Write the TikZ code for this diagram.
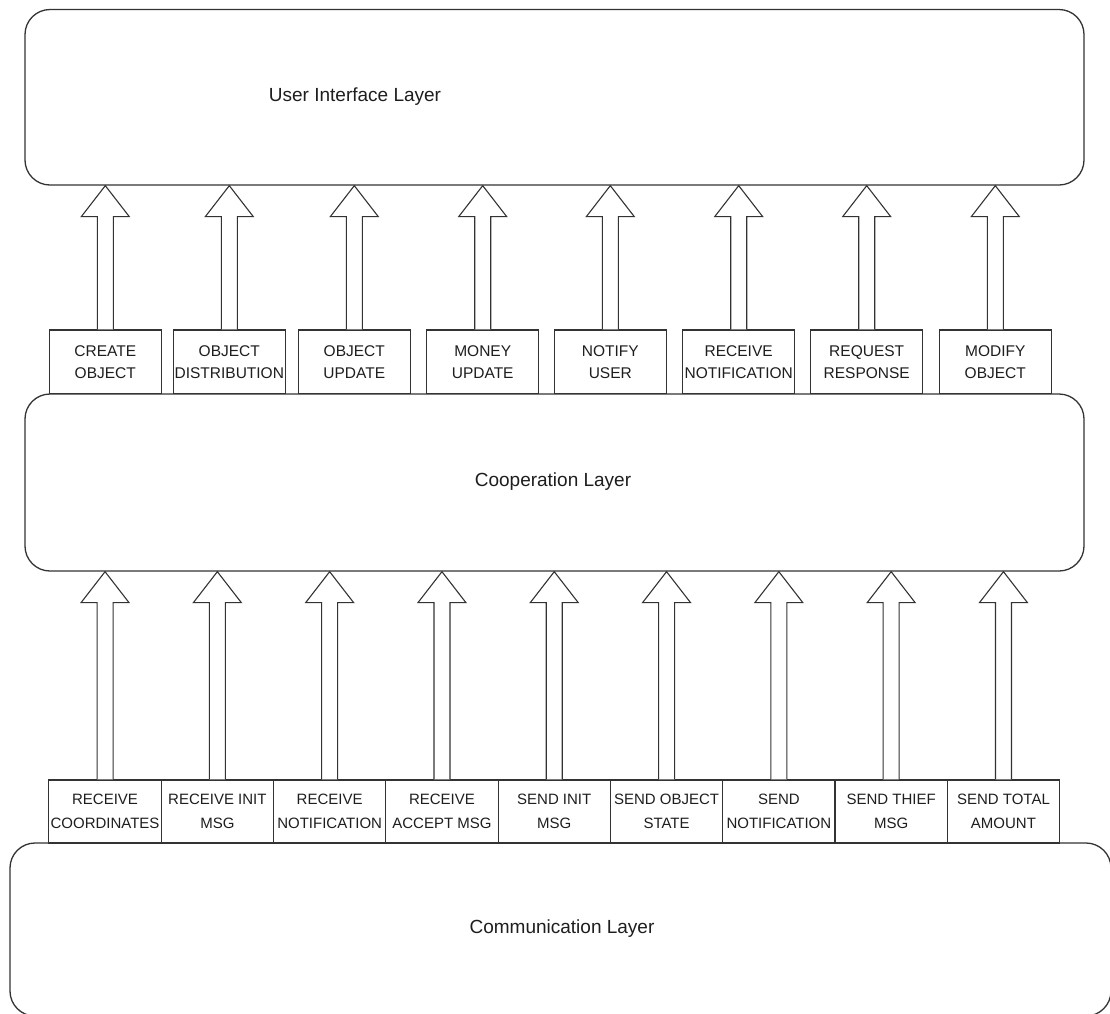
\documentclass[tikz,border=0pt]{standalone}
\usepackage{fontspec}
\setmainfont{Liberation Sans}
\usetikzlibrary{calc}
\definecolor{ln}{HTML}{333333}
\definecolor{tx}{HTML}{1E1E1E}
\begin{document}
\begin{tikzpicture}[x=1pt,y=-1pt,
  layer/.style={draw=ln,line width=1.3pt,rounded corners=25pt,fill=white,inner sep=0pt},
  layertext/.style={font=\fontsize{19}{22}\selectfont,text=tx,inner sep=0pt},
  topbox/.style={draw=ln,line width=1.1pt,fill=white,minimum width=112pt,minimum height=63.5pt,inner sep=0pt,align=center,font=\fontsize{15.5}{22}\selectfont,text=tx},
  botbox/.style={draw=ln,line width=1.1pt,fill=white,minimum width=112.3pt,minimum height=63pt,inner sep=0pt,align=center,font=\fontsize{15}{24}\selectfont,text=tx},
  blockarrow/.style={draw=ln,line width=1.1pt,fill=white,line join=miter}]
\useasboundingbox (0,0) rectangle (1110,1013);
% layers
\node[layer,minimum width=1059pt,minimum height=175.5pt] (ui) at (554.5,97.25) {};
\node[layertext] (uit) at (355,97) {User Interface Layer};
\node[layer,minimum width=1059pt,minimum height=177pt] (coop) at (554.5,482.5) {};
\node[layertext] (coopt) at (553,482) {Cooperation Layer};
\node[layer,minimum width=1101pt,minimum height=173pt] (comm) at (560.5,929.5) {};
\node[layertext] (commt) at (562,929) {Communication Layer};
% top boxes
\foreach \nm/\cx/\t in {t1/105.3/{CREATE\\OBJECT},t2/229.3/{OBJECT\\DISTRIBUTION},t3/354.3/{OBJECT\\UPDATE},t4/482.7/{MONEY\\UPDATE},t5/610.3/{NOTIFY\\USER},t6/738.7/{RECEIVE\\NOTIFICATION},t7/866.7/{REQUEST\\RESPONSE},t8/995.3/{MODIFY\\OBJECT}}{
  \node[topbox] (\nm) at (\cx,361.75) {\t};
  \draw[blockarrow] let \p1=(\nm.north), \p2=(ui.south) in
    ({\x1-8pt},\y1) -- ({\x1-8pt},{\y2-31pt}) -- ({\x1-24pt},{\y2-31pt}) -- (\x1,\y2)
    -- ({\x1+24pt},{\y2-31pt}) -- ({\x1+8pt},{\y2-31pt}) -- ({\x1+8pt},\y1);
}
% bottom boxes
\foreach \nm/\i/\t in {b1/0/{RECEIVE\\COORDINATES},b2/1/{RECEIVE INIT\\MSG},b3/2/{RECEIVE\\NOTIFICATION},b4/3/{RECEIVE\\ACCEPT MSG},b5/4/{SEND INIT\\MSG},b6/5/{SEND OBJECT\\STATE},b7/6/{SEND\\NOTIFICATION},b8/7/{SEND THIEF\\MSG},b9/8/{SEND TOTAL\\AMOUNT}}{
  \node[botbox] (\nm) at ({105.05+112.3*\i},811.5) {\t};
  \draw[blockarrow] let \p1=(\nm.north), \p2=(coop.south) in
    ({\x1-8pt},\y1) -- ({\x1-8pt},{\y2-31pt}) -- ({\x1-24pt},{\y2-31pt}) -- (\x1,\y2)
    -- ({\x1+24pt},{\y2-31pt}) -- ({\x1+8pt},{\y2-31pt}) -- ({\x1+8pt},\y1);
}
\end{tikzpicture}
\end{document}
